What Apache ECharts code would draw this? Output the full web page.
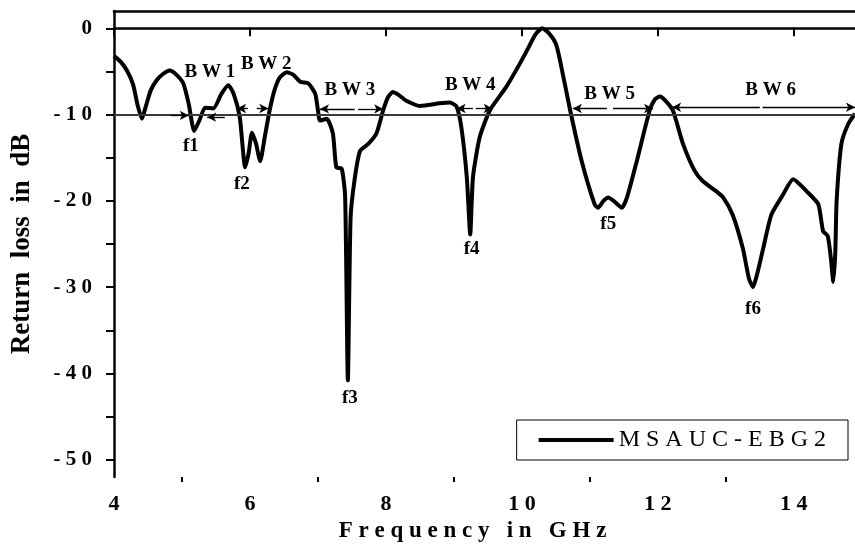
<!DOCTYPE html>
<html>
<head>
<meta charset="utf-8">
<script src="https://cdn.jsdelivr.net/npm/echarts@6/dist/echarts.min.js"></script>
<style>
  html, body { margin: 0; padding: 0; background: #fff; }
  #chart { width: 855px; height: 549px; }
</style>
</head>
<body>
<div id="chart"></div>
<script>
// frequency (GHz) and return loss (dB)
const freq = [4.00, 4.10, 4.19, 4.28, 4.35, 4.41, 4.47, 4.54, 4.63, 4.72, 4.82, 4.92, 5.02, 5.10, 5.18,
  5.26, 5.34, 5.46, 5.58, 5.68, 5.76, 5.85, 5.93, 5.98, 6.03, 6.09, 6.15, 6.22, 6.29, 6.36, 6.44,
  6.54, 6.64, 6.74, 6.86, 6.96, 7.00, 7.03, 7.13, 7.22, 7.27, 7.35, 7.40, 7.44, 7.48, 7.54, 7.62,
  7.74, 7.86, 7.96, 8.03, 8.10, 8.20, 8.30, 8.50, 8.79, 8.94, 9.04, 9.11, 9.19, 9.24, 9.28, 9.38,
  9.53, 9.77, 9.97, 10.10, 10.20, 10.30, 10.40, 10.50, 10.56, 10.71, 10.88, 11.07, 11.12, 11.20,
  11.27, 11.35, 11.47, 11.55, 11.69, 11.88, 11.96, 12.03, 12.10, 12.22, 12.37, 12.54, 12.66, 12.86,
  12.96, 13.10, 13.25, 13.34, 13.40, 13.46, 13.55, 13.67, 13.84, 13.99, 14.19, 14.36, 14.43, 14.50,
  14.55, 14.58, 14.61, 14.63, 14.70, 14.80, 14.90]
const returnLoss = [-3.2, -3.9, -4.9, -6.5, -9.0, -10.5, -9.0, -7.2, -6.0, -5.3, -4.9, -5.4, -6.4, -8.8, -11.9,
  -10.6, -9.2, -9.3, -7.6, -6.6, -7.6, -10.3, -16.1, -14.5, -12.1, -13.4, -15.4, -12.5, -9.5, -7.2, -5.7,
  -5.1, -5.4, -6.2, -6.4, -7.6, -9.5, -10.7, -10.5, -12.2, -16.1, -16.3, -19.5, -40.8, -22.0, -17.5, -14.2,
  -13.4, -12.2, -9.5, -8.0, -7.4, -7.8, -8.4, -9.0, -8.7, -8.6, -9.1, -11.5, -17.3, -23.9, -17.3, -12.6,
  -9.5, -6.8, -4.1, -2.2, -0.7, 0.0, -0.6, -1.8, -3.7, -9.5, -15.4, -20.4, -20.8, -20.0,
  -19.6, -20.0, -20.8, -19.5, -15.4, -9.5, -8.2, -7.9, -8.3, -9.5, -13.4, -16.5, -17.7, -18.9,
  -19.6, -21.6, -25.5, -29.0, -30.0, -28.5, -25.5, -21.6, -19.3, -17.5, -18.9, -20.4, -23.5, -24.1,
  -27.0, -29.4, -26.0, -20.0, -13.4, -11.1, -9.9]

const xMajorTicks = [4, 6, 8, 10, 12, 14]
const xMinorTicks = [5, 7, 9, 11, 13]
const yMajorTicks = [-50, -40, -30, -20, -10, 0]
const yAllTicks = [-50, -45, -40, -35, -30, -25, -20, -15, -10, -5, 0]

// bandwidth arrows: [tail x, head x, y]
const bwArrows = [
  [4.84, 5.10, -10.1], [5.63, 5.37, -10.3],
  [5.97, 5.81, -9.3], [6.10, 6.27, -9.3],
  [7.54, 7.03, -9.35], [7.59, 7.96, -9.35],
  [9.28, 9.04, -9.3], [9.32, 9.57, -9.3],
  [11.25, 10.75, -9.3], [11.34, 11.93, -9.3],
  [13.50, 12.21, -9.15], [13.54, 14.90, -9.15]
]
const bwLabels = [
  [5.41, -5.1, 'B W 1'], [6.24, -4.1, 'B W 2'], [7.47, -7.2, 'B W 3'],
  [9.24, -6.6, 'B W 4'], [11.29, -7.6, 'B W 5'], [13.66, -7.2, 'B W 6']
]
const resLabels = [
  [5.13, -13.6, 'f1'], [5.88, -18.1, 'f2'], [7.47, -42.8, 'f3'],
  [9.26, -25.6, 'f4'], [11.27, -22.7, 'f5'], [13.40, -32.5, 'f6']
]
const refLevel = -10

const spaced = s => s.split('').join(' ')
const serif = 'Liberation Serif'

const chart = echarts.init(document.getElementById('chart'))

const labelPoint = (item, size) => ({
  coord: [item[0], item[1]],
  value: item[2],
  label: { fontSize: size }
})

const option = {
  animation: false,
  backgroundColor: '#fff',
  grid: { left: 114, right: 0, top: 11, bottom: 72 },
  legend: {
    right: 7,
    top: 420,
    padding: [8, 22, 8, 22],
    borderColor: '#000',
    borderWidth: 1,
    icon: 'rect',
    itemWidth: 75,
    itemHeight: 4,
    itemGap: 7,
    formatter: name => spaced(name),
    textStyle: { fontFamily: serif, fontSize: 24, color: '#000', padding: [2, 0, 0, 0] },
    data: ['MSAUC-EBG2']
  },
  xAxis: [{
    type: 'value',
    min: 4,
    max: 14.9,
    name: spaced('Frequency') + '   ' + spaced('in') + '   ' + spaced('GHz'),
    nameLocation: 'middle',
    nameGap: 43,
    nameTextStyle: { fontFamily: serif, fontWeight: 'bold', fontSize: 23, color: '#000', padding: [0, 24, 0, 0] },
    axisLine: { lineStyle: { color: '#000', width: 2.5 } },
    axisTick: { customValues: xMajorTicks, length: 8, lineStyle: { color: '#000', width: 2 } },
    axisLabel: {
      customValues: xMajorTicks,
      margin: 16,
      fontFamily: serif, fontWeight: 'bold', fontSize: 22, color: '#000',
      formatter: v => spaced(String(v))
    },
    splitLine: { show: false }
  }, {
    type: 'value',
    min: 4,
    max: 14.9,
    position: 'bottom',
    axisLine: { show: false },
    axisTick: { customValues: xMinorTicks, length: 5, lineStyle: { color: '#000', width: 2 } },
    axisLabel: { show: false },
    splitLine: { show: false }
  }, {
    type: 'value',
    min: 4,
    max: 14.9,
    position: 'top',
    axisLine: { lineStyle: { color: '#000', width: 2.5 } },
    axisTick: { show: false },
    axisLabel: { show: false },
    splitLine: { show: false }
  }],
  yAxis: {
    type: 'value',
    min: -52,
    max: 2,
    name: 'Return  loss  in  dB',
    nameLocation: 'middle',
    nameGap: 78,
    nameMoveOverlap: false,
    nameTextStyle: { fontFamily: serif, fontWeight: 'bold', fontSize: 27, color: '#000' },
    axisLine: { lineStyle: { color: '#000', width: 2.5 } },
    axisTick: { customValues: yAllTicks, length: 8, lineStyle: { color: '#000', width: 2 } },
    axisLabel: {
      customValues: yMajorTicks,
      margin: 22,
      align: 'right',
      fontFamily: serif, fontWeight: 'bold', fontSize: 21, color: '#000',
      formatter: v => spaced(String(v))
    },
    splitLine: { show: false }
  },
  series: [{
    name: 'MSAUC-EBG2',
    type: 'line',
    data: freq.map((f, i) => [f, returnLoss[i]]),
    smooth: 0.2,
    symbol: 'none',
    lineStyle: { color: '#000', width: 4 },
    itemStyle: { color: '#000' },
    markLine: {
      silent: true,
      symbol: 'none',
      label: { show: false },
      data: [
        {
          yAxis: refLevel,
          lineStyle: { color: '#3a3a3a', width: 2, type: 'solid' }
        },
        ...bwArrows.map(a => [
          { coord: [a[0], a[2]], symbol: 'none' },
          { coord: [a[1], a[2]], symbol: 'arrow', symbolSize: [7, 9] }
        ])
      ],
      lineStyle: { color: '#000', width: 1.3, type: 'solid' }
    },
    markPoint: {
      silent: true,
      symbol: 'rect',
      symbolSize: 1,
      itemStyle: { color: 'rgba(0,0,0,0)' },
      label: {
        show: true,
        position: 'inside',
        formatter: p => p.value,
        fontFamily: serif,
        fontWeight: 'bold',
        color: '#000'
      },
      data: [
        ...bwLabels.map(l => labelPoint(l, 19)),
        ...resLabels.map(l => labelPoint(l, 19))
      ]
    }
  }]
}

chart.setOption(option)
</script>
</body>
</html>
